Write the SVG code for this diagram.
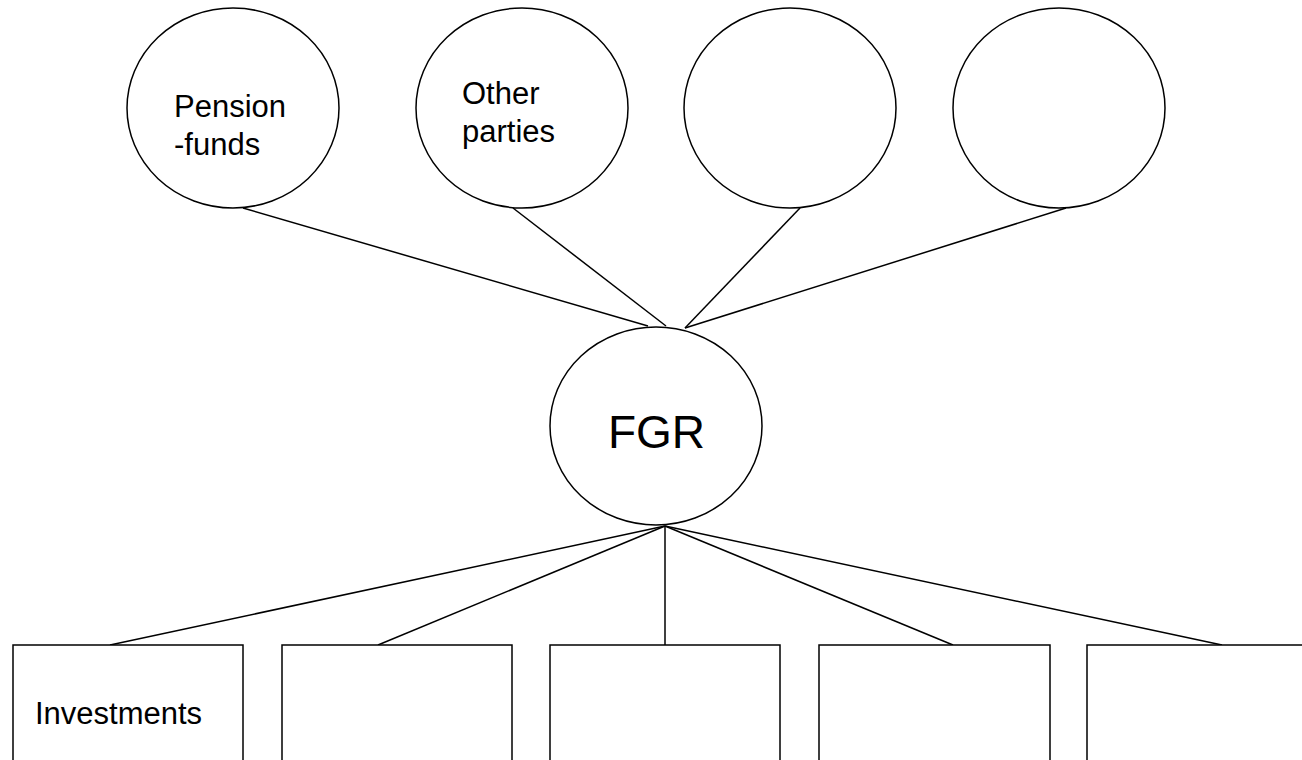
<svg xmlns="http://www.w3.org/2000/svg" width="1302" height="760" viewBox="0 0 1302 760">
<style>
.n{fill:#fff;stroke:#000;stroke-width:1.5}
.c{stroke:#000;stroke-width:1.5;fill:none}
.t{font-family:"Liberation Sans",Arial,sans-serif;fill:#000;font-size:31px}
</style>
<rect width="1302" height="760" fill="#fff"/>
<g id="connectors">
<line class="c" x1="243" y1="208" x2="648" y2="326"/>
<line class="c" x1="513" y1="208" x2="666" y2="326"/>
<line class="c" x1="800" y1="208" x2="685" y2="328"/>
<line class="c" x1="1066" y1="208" x2="685" y2="328"/>
<line class="c" x1="665" y1="526" x2="110" y2="645"/>
<line class="c" x1="665" y1="526" x2="378" y2="645"/>
<line class="c" x1="665" y1="526" x2="665" y2="645"/>
<line class="c" x1="665" y1="526" x2="953" y2="645"/>
<line class="c" x1="665" y1="526" x2="1222" y2="645"/>
</g>
<g id="pension"><ellipse class="n" cx="233" cy="108" rx="106" ry="100"/><text class="t" x="174" y="117">Pension</text><text class="t" x="174" y="155">-funds</text></g>
<g id="other"><ellipse class="n" cx="522" cy="108" rx="106" ry="100"/><text class="t" x="462" y="104">Other</text><text class="t" x="462" y="142">parties</text></g>
<g id="c3"><ellipse class="n" cx="790" cy="108" rx="106" ry="100"/></g>
<g id="c4"><ellipse class="n" cx="1059" cy="108" rx="106" ry="100"/></g>
<g id="fgr"><ellipse class="n" cx="656" cy="426" rx="106" ry="99"/><text class="t" style="font-size:46px" x="656.5" y="448" text-anchor="middle">FGR</text></g>
<g id="b1"><rect class="n" x="13" y="645" width="230" height="130"/><text class="t" x="35" y="724">Investments</text></g>
<g id="b2"><rect class="n" x="282" y="645" width="230" height="130"/></g>
<g id="b3"><rect class="n" x="550" y="645" width="230" height="130"/></g>
<g id="b4"><rect class="n" x="819" y="645" width="231" height="130"/></g>
<g id="b5"><rect class="n" x="1087" y="645" width="230" height="130"/></g>
</svg>
